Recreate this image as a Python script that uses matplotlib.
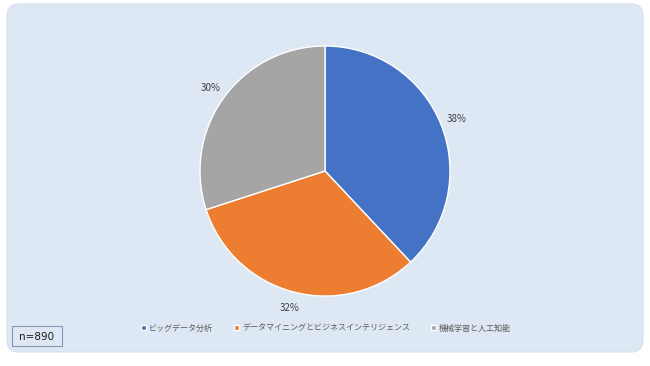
import matplotlib
matplotlib.use("Agg")
import matplotlib.pyplot as plt
from matplotlib.patches import FancyBboxPatch, Rectangle

categories = ["ビッグデータ分析", "データマイニングとビジネスインテリジェンス", "機械学習と人工知能"]
values = [38, 32, 30]
colors = ["#4472C4", "#ED7D31", "#A5A5A5"]
n_label = "n=890"

plt.rcParams['font.family'] = ['Noto Sans CJK JP', 'DejaVu Sans']

W, H = 650, 366
fig = plt.figure(figsize=(W/100, H/100), dpi=100)
fig.patch.set_facecolor("white")

# background panel in pixel-like coordinates
bg = fig.add_axes([0, 0, 1, 1])
bg.set_xlim(0, W)
bg.set_ylim(H, 0)
bg.axis("off")
panel = FancyBboxPatch((7+12, 4+12), 636-24, 348-24,
                       boxstyle="round,pad=12,rounding_size=12",
                       facecolor="#DEE8F4", edgecolor="#D5E0EE", linewidth=0.8)
bg.add_patch(panel)
bg.add_patch(Rectangle((12, 326), 50, 20, facecolor="#DEE8F4",
                       edgecolor="#8496B0", linewidth=0.8))
bg.text(37, 336.5, n_label, ha="center", va="center", fontsize=7.5,
        color="#1a1a1a", family=["DejaVu Sans"])

# pie
cx, cy, r = 325, 171, 125
ax = fig.add_axes([(cx - r)/W, (H - cy - r)/H, 2*r/W, 2*r/H])
wedges, texts, autotexts = ax.pie(values, colors=colors, startangle=90, counterclock=False,
                                  autopct=lambda p: f"{p:.0f}%", pctdistance=1.13,
                                  wedgeprops=dict(edgecolor="white", linewidth=1.0),
                                  textprops=dict(fontsize=7, color="#404040"))
ax.set_xlim(-1, 1)
ax.set_ylim(-1, 1)
ax.set_aspect("equal")
ax.axis("off")

leg = fig.legend(wedges, categories, loc="center", bbox_to_anchor=(326/W, 1 - 328/H),
                 ncol=3, frameon=False, fontsize=5.8, handlelength=0.6, handleheight=0.6,
                 handletextpad=0.4, columnspacing=2.6)
for t in leg.get_texts():
    t.set_color("#595959")

fig.savefig("out.png", dpi=100, facecolor="white")
